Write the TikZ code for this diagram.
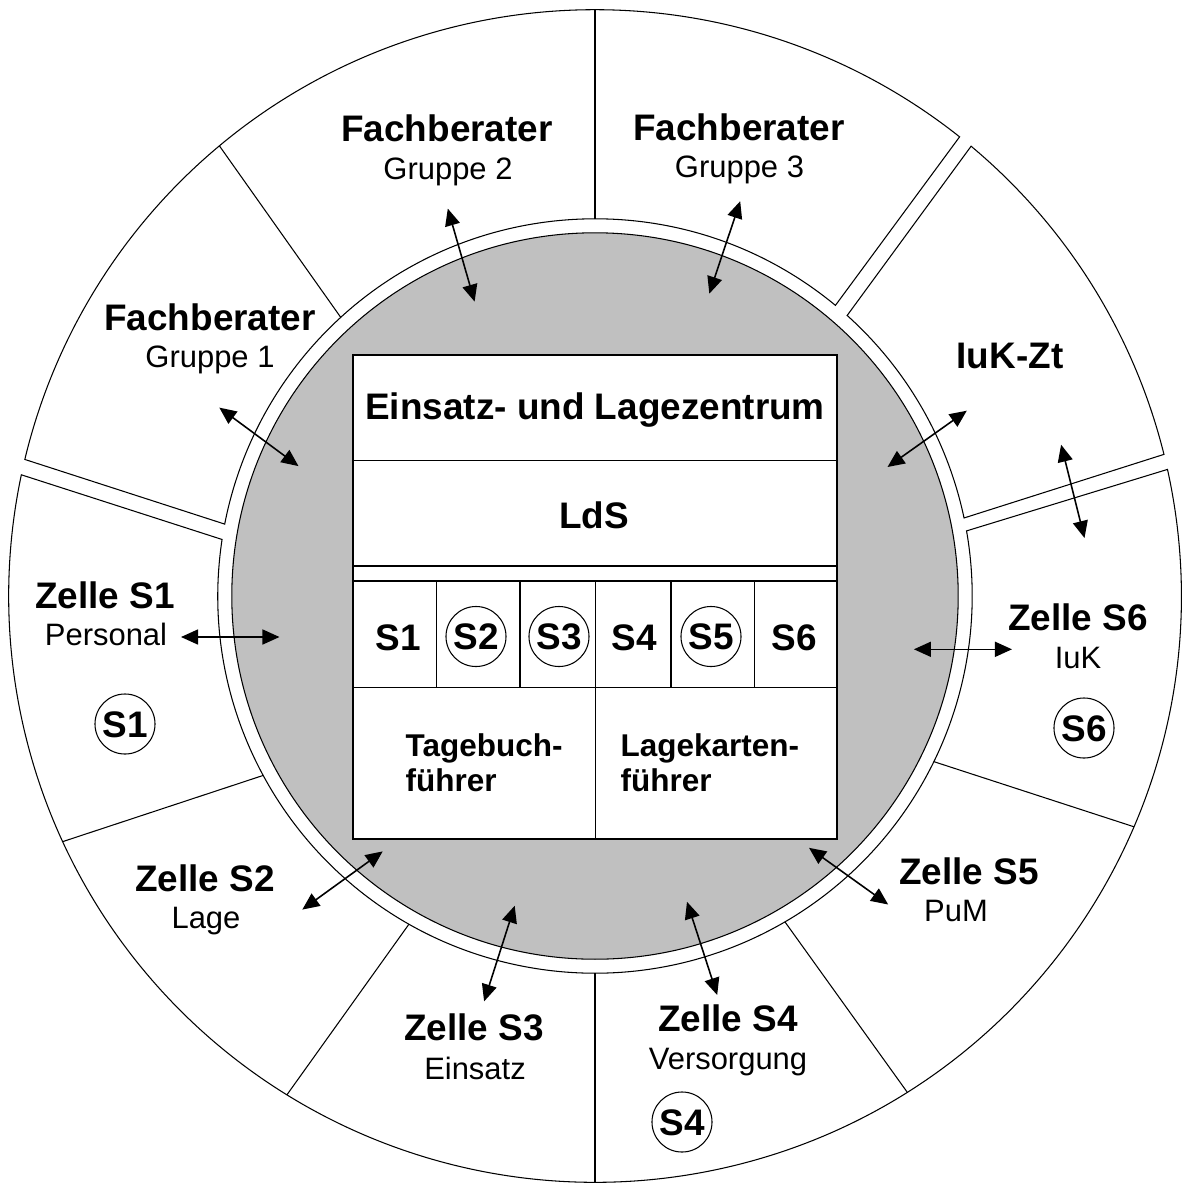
\documentclass[tikz,border=0pt]{standalone}
\usepackage{fontspec}
\setmainfont{Liberation Sans}
\usetikzlibrary{arrows.meta,calc}
\definecolor{ringgrey}{RGB}{192,192,192}
\begin{document}
\begin{tikzpicture}[x=0.01cm,y=-0.01cm,
  ringline/.style={draw=black,line width=0.3pt},
  biarrow/.style={{Triangle[length=0.17cm,width=0.15cm]}-{Triangle[length=0.17cm,width=0.15cm]},line width=0.45pt},
  big/.style={font=\bfseries\fontsize{10.5}{12}\selectfont,inner sep=0pt,anchor=base},
  sub/.style={font=\fontsize{8.8}{10}\selectfont,inner sep=0pt,anchor=base},
  tb/.style={font=\bfseries\fontsize{8.95}{11}\selectfont,inner sep=0pt,anchor=base west},
  circ/.style={circle,draw,line width=0.3pt,minimum size=0.6cm,inner sep=0pt,text height=0.265cm,text depth=0pt,font=\bfseries\fontsize{10.5}{12}\selectfont}
]
\useasboundingbox (0,0) rectangle (1182,1184);
\coordinate (C) at (595,596);

% ring groups
\draw[ringline] ($(C)+(166.53:5.86cm)$) arc[start angle=166.53,end angle=51.55,radius=5.86cm]
  -- ($(C)+(50.4:3.77cm)$) arc[start angle=50.4,end angle=169.01,radius=3.77cm] -- cycle;
\draw[ringline] ($(C)+(50.1:5.86cm)$) arc[start angle=50.1,end angle=13.98,radius=5.86cm]
  -- ($(C)+(11.94:3.77cm)$) arc[start angle=11.94,end angle=48.05,radius=3.77cm] -- cycle;
\draw[ringline] ($(C)+(12.47:5.86cm)$) arc[start angle=12.47,end angle=-191.93,radius=5.86cm]
  -- ($(C)+(-188.62:3.77cm)$) arc[start angle=-188.62,end angle=9.94,radius=3.77cm] -- cycle;
% internal separators
\draw[ringline] ($(C)+(129.84:5.86cm)$) -- ($(C)+(132.38:3.77cm)$);
\draw[ringline] ($(C)+(90:5.86cm)$) -- ($(C)+(90:3.77cm)$);
\draw[ringline] ($(C)+(-23.18:5.86cm)$) -- ($(C)+(-26.05:3.77cm)$);
\draw[ringline] ($(C)+(-57.82:5.86cm)$) -- ($(C)+(-59.76:3.77cm)$);
\draw[ringline] ($(C)+(-90:5.86cm)$) -- ($(C)+(-90:3.77cm)$);
\draw[ringline] ($(C)+(238.3:5.86cm)$) -- ($(C)+(240.45:3.77cm)$);
\draw[ringline] ($(C)+(204.77:5.86cm)$) -- ($(C)+(208.4:3.77cm)$);

% grey core
\filldraw[ringline,fill=ringgrey] (C) circle[radius=3.63cm];

% table
\draw[ringline,fill=white] (353,355) rectangle (837,839);
\draw[ringline] (353,460.7) -- (837,460.7);
\draw[ringline] (353,566) -- (837,566);
\draw[ringline] (353,581) -- (837,581);
\draw[ringline] (353,687.7) -- (837,687.7);
\draw[ringline] (436.7,581) -- (436.7,687.7);
\draw[ringline] (520,581) -- (520,687.7);
\draw[ringline] (595.3,581) -- (595.3,839);
\draw[ringline] (671,581) -- (671,687.7);
\draw[ringline] (754.3,581) -- (754.3,687.7);

\node[big] (elz) at (595,419.3) {Einsatz- und Lagezentrum};
\node[big] (lds) at (594,528.3) {LdS};
\node[big] (t1) at (398,650) {S1};
\node[circ] (t2) at (476,636.5) {S2};
\node[circ] (t3) at (559,636.5) {S3};
\node[big] (t4) at (634,650) {S4};
\node[circ] (t5) at (711,636.5) {S5};
\node[big] (t6) at (794,650) {S6};
\node[tb] (tbf1) at (405,756) {Tagebuch-};
\node[tb] (tbf2) at (405,791) {führer};
\node[tb] (lkf1) at (620,756) {Lagekarten-};
\node[tb] (lkf2) at (620,791) {führer};

% outer labels
\node[big] (fb1) at (210,330) {Fachberater};
\node[sub] (fb1s) at (210,367) {Gruppe 1};
\node[big] (fb2) at (447,141) {Fachberater};
\node[sub] (fb2s) at (448,179) {Gruppe 2};
\node[big] (fb3) at (739,140) {Fachberater};
\node[sub] (fb3s) at (739.5,177) {Gruppe 3};
\node[big] (iukzt) at (1010,368) {IuK-Zt};
\node[big] (z1) at (105,608) {Zelle S1};
\node[sub] (z1s) at (106,645) {Personal};
\node[circ] (c1) at (125,724) {S1};
\node[big] (z2) at (205,891) {Zelle S2};
\node[sub] (z2s) at (206,928.7) {Lage};
\node[big] (z3) at (474,1040) {Zelle S3};
\node[sub] (z3s) at (475,1079) {Einsatz};
\node[big] (z4) at (728,1031) {Zelle S4};
\node[sub] (z4s) at (728,1069) {Versorgung};
\node[circ] (c4) at (682,1122) {S4};
\node[big] (z5) at (969,884) {Zelle S5};
\node[sub] (z5s) at (956,921.5) {PuM};
\node[big] (z6) at (1078,630) {Zelle S6};
\node[sub] (z6s) at (1078,668) {IuK};
\node[circ] (c6) at (1084,728) {S6};

% arrow end points
\coordinate (g1a) at (219.3,407.6); \coordinate (g1b) at (298.5,466.1);
\coordinate (g2a) at (447.8,208.6); \coordinate (g2b) at (474.6,301.6);
\coordinate (g3a) at (740.2,201.2); \coordinate (g3b) at (709.3,293.7);
\coordinate (ika) at (966.8,410.7); \coordinate (ikb) at (887.5,467);
\coordinate (isa) at (1061.1,444.7); \coordinate (isb) at (1084.5,538);
\coordinate (s1a) at (181,637); \coordinate (s1b) at (279.5,637);
\coordinate (s2a) at (382.7,851.4); \coordinate (s2b) at (302.3,909.6);
\coordinate (s3a) at (514.7,905.7); \coordinate (s3b) at (484.1,1001.4);
\coordinate (s4a) at (687,901.8); \coordinate (s4b) at (717.2,995);
\coordinate (s5a) at (809,847.8); \coordinate (s5b) at (888.2,904.5);
\coordinate (s6a) at (913.9,649.3); \coordinate (s6b) at (1012,649.3);

\draw[biarrow] (g1a) -- (g1b);
\draw[biarrow] (g2a) -- (g2b);
\draw[biarrow] (g3a) -- (g3b);
\draw[biarrow] (ika) -- (ikb);
\draw[biarrow] (isa) -- (isb);
\draw[biarrow] (s1a) -- (s1b);
\draw[biarrow] (s2a) -- (s2b);
\draw[biarrow] (s3a) -- (s3b);
\draw[biarrow] (s4a) -- (s4b);
\draw[biarrow] (s5a) -- (s5b);
\draw[biarrow] (s6a) -- (s6b);
\end{tikzpicture}
\end{document}
